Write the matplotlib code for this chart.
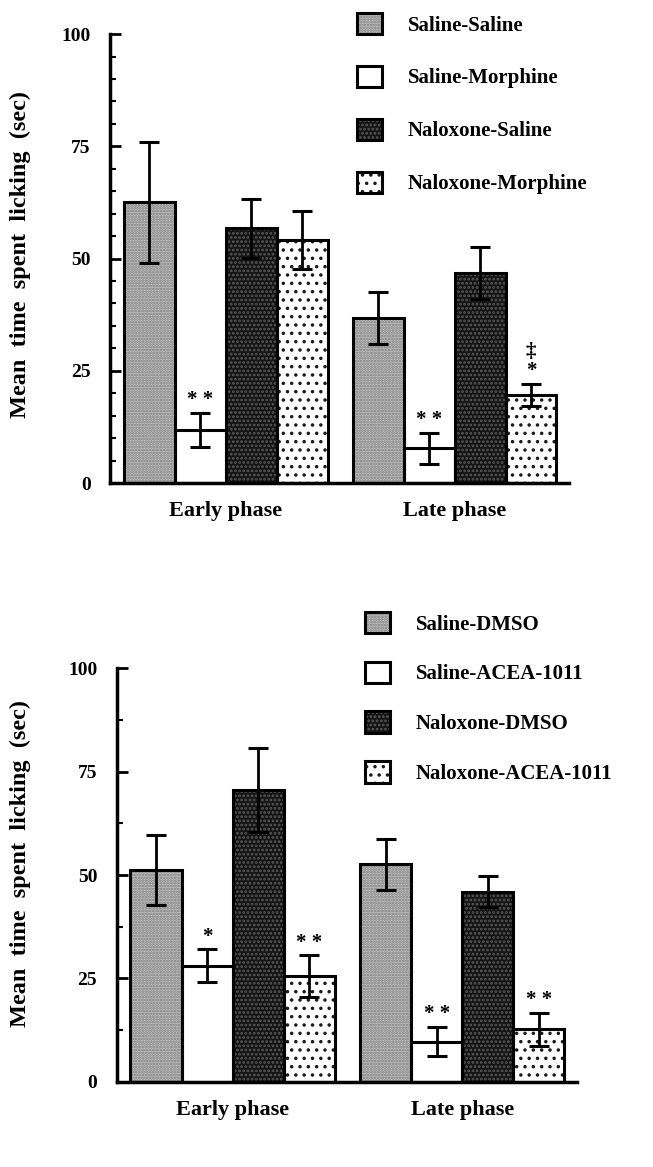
import numpy as np
import matplotlib
matplotlib.use("Agg")
import matplotlib.pyplot as plt
from matplotlib.ticker import MultipleLocator

plt.rcParams['font.family'] = ['Liberation Serif', 'DejaVu Serif']
plt.rcParams['font.weight'] = 'bold'
plt.rcParams['hatch.linewidth'] = 1.3

# ---- data ----
phases = ["Early phase", "Late phase"]

top_series = ["Saline-Saline", "Saline-Morphine", "Naloxone-Saline", "Naloxone-Morphine"]
top_mean = [[62.5, 36.7], [11.8, 7.7], [56.7, 46.8], [54.1, 19.6]]
top_sem = [[13.5, 5.8], [3.8, 3.4], [6.5, 5.8], [6.4, 2.5]]
top_marks = [["", ""], ["* *", "* *"], ["", ""], ["", "‡\n*"]]

bot_series = ["Saline-DMSO", "Saline-ACEA-1011", "Naloxone-DMSO", "Naloxone-ACEA-1011"]
bot_mean = [[51.2, 52.6], [28.0, 9.7], [70.6, 46.0], [25.6, 12.7]]
bot_sem = [[8.5, 6.2], [4.0, 3.6], [10.2, 3.7], [5.0, 4.0]]
bot_marks = [["", ""], ["*", "* *"], ["", ""], ["* *", "* *"]]

# fill colour, hatch, hatch colour for the four groups
styles = [("#c2c2c2", "......", "#7c7c7c"),
          ("white", "", "white"),
          ("#141414", "....", "#5a5a5a"),
          ("white", "..", "#1a1a1a")]


def draw_panel(ax, series, means, sems, marks, minor, label_xy):
    x = np.arange(len(phases))
    w = 0.2225
    handles = []
    for i, name in enumerate(series):
        pos = x + (i - 1.5) * w
        fc, hatch, hc = styles[i]
        fill = ax.bar(pos, means[i], w, color=fc, hatch=hatch, edgecolor=hc,
                      linewidth=0, zorder=2)
        edge = ax.bar(pos, means[i], w, facecolor="none", edgecolor="black",
                      linewidth=2.2, zorder=3)
        ax.errorbar(pos, means[i], yerr=sems[i], fmt="none", ecolor="black",
                    elinewidth=2, capsize=7.5, capthick=2.2, zorder=4)
        for p, m, s, t in zip(pos, means[i], sems[i], marks[i]):
            if t:
                ax.text(p, m + s + 0.6, t, ha="center", va="bottom",
                        fontsize=15, linespacing=0.95, zorder=5)
        handles.append((fill[0], edge[0]))

    ax.set_xlim(-0.505, 1.5)
    ax.set_ylim(0, 100)
    ax.set_xticks(x)
    ax.set_xticklabels(phases, fontsize=16, fontweight="bold")
    ax.tick_params(axis="x", length=0, pad=13)
    ax.set_yticks([0, 25, 50, 75, 100])
    ax.yaxis.set_minor_locator(MultipleLocator(minor))
    ax.tick_params(axis="y", which="major", direction="in", length=8, width=2,
                   labelsize=14, pad=14)
    ax.tick_params(axis="y", which="minor", direction="in", length=4, width=1.5)
    for sp in ["top", "right"]:
        ax.spines[sp].set_visible(False)
    for sp in ["left", "bottom"]:
        ax.spines[sp].set_linewidth(2.5)
    ax.set_ylabel("Mean  time  spent  licking  (sec)", fontsize=17.5,
                  fontweight="bold")
    ax.yaxis.set_label_coords(*label_xy)
    return handles


fig = plt.figure(figsize=(6.53, 11.67), dpi=100)
ax1 = fig.add_axes([0.1685, 0.5861, 0.703, 0.3847])
ax2 = fig.add_axes([0.1787, 0.0731, 0.705, 0.3542])

h1 = draw_panel(ax1, top_series, top_mean, top_sem, top_marks, 5, (-0.172, 0.508))
h2 = draw_panel(ax2, bot_series, bot_mean, bot_sem, bot_marks, 12.5, (-0.186, 0.529))

leg_kw = dict(frameon=False, loc="upper left", fontsize=15, handlelength=1.2,
              handleheight=1.2, handletextpad=1.25, borderpad=0, borderaxespad=0)
fig.legend(h1, top_series, bbox_to_anchor=(0.5467, 0.989), labelspacing=1.45, **leg_kw)
fig.legend(h2, bot_series, bbox_to_anchor=(0.559, 0.4757), labelspacing=1.3, **leg_kw)

fig.savefig("out.png", dpi=100)
